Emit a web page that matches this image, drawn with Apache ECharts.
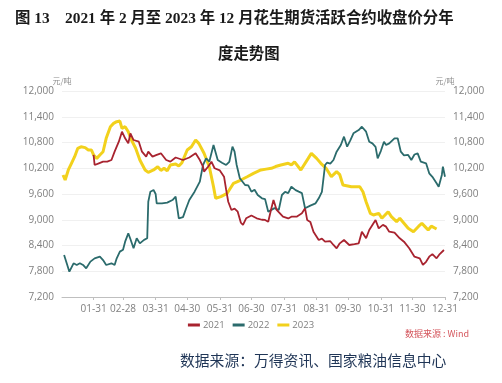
<!DOCTYPE html>
<html><head><meta charset="utf-8">
<script src="https://cdn.jsdelivr.net/npm/echarts@6/dist/echarts.min.js"></script>
<style>html,body{margin:0;padding:0;background:#fff}#c{width:502px;height:383px}</style>
</head><body><div id="c"></div>
<script>
// x = day of year (0 = Jan 1)
const tickDays = [30,58,89,119,150,180,211,242,272,303,333,364];
const tickLabels = ['01-31','02-28','03-31','04-30','05-31','06-30','07-31','08-31','09-30','10-31','11-30','12-31'];

const days2021 = [30,31,35,39,43,47,50,54,57,58,60,63,65,68,73,76,80,82,86,90,94,99,103,108,115,121,127,131,134,135,139,142,145,150,154,156,158,161,164,167,170,172,175,180,185,190,193,196,199,201,204,210,215,218,223,228,231,233,236,239,244,247,250,255,258,261,264,268,273,278,282,285,289,292,295,298,301,305,308,311,316,321,325,330,335,340,343,346,349,352,356,359,363];
const price2021 = [10510,10276,10315,10354,10354,10392,10586,10819,11052,11090,10898,10781,11014,10858,10819,10586,10470,10586,10470,10510,10548,10392,10354,10450,10392,10450,10548,10392,10236,10120,10240,10354,10200,10150,10003,9700,9420,9228,9260,9188,8930,8878,9034,9100,9034,9000,8995,8955,9267,9460,9228,9072,9030,9072,9072,9150,9267,8995,8950,8722,8528,8560,8489,8500,8412,8335,8450,8528,8412,8430,8451,8722,8568,8761,8878,8995,8800,8880,8839,8722,8700,8568,8489,8335,8140,8102,7946,8020,8140,8200,8102,8200,8295];

const days2022 = [2,5,7,11,14,17,20,23,27,31,36,39,42,47,50,52,55,58,60,63,65,68,71,74,78,81,82,84,87,89,90,95,100,105,108,111,115,118,121,126,131,134,137,140,144,148,152,156,159,162,164,166,169,174,177,180,183,186,190,193,196,199,202,206,209,212,215,218,222,225,228,231,236,241,244,247,250,252,255,258,261,265,268,271,274,277,282,285,289,292,295,298,300,303,306,308,311,316,319,322,325,329,332,335,338,341,346,349,352,356,358,361,362,364];
const price2022 = [8179,7946,7790,7985,7946,7985,7946,7868,8024,8100,8140,8060,7946,7985,7946,8102,8257,8300,8489,8684,8550,8335,8568,8450,8530,8568,9420,9654,9693,9600,9383,9383,9400,9460,9537,9034,9060,9267,9460,9654,9887,10276,10430,10354,10742,10392,10330,10276,10350,10703,10586,10276,9966,9810,9800,9654,9700,9577,9500,9480,9188,9230,9270,9228,9577,9650,9620,9770,9690,9654,9620,9267,9330,9383,9500,9650,10276,10330,10310,10392,10586,10742,10936,10703,10850,11014,11091,11168,11052,10819,10780,10700,10430,10600,10819,10740,10780,10898,10898,10586,10500,10510,10392,10520,10548,10354,10315,10082,10000,9850,9770,10043,10236,10003];

const days2023 = [1,3,6,9,12,15,18,22,25,28,30,33,36,39,42,46,49,52,55,57,60,63,66,70,74,79,82,87,91,94,97,100,103,108,111,114,119,123,127,130,135,140,144,146,151,157,160,163,170,176,182,189,194,199,203,208,215,218,221,227,234,237,242,246,251,256,261,264,267,275,283,286,289,293,296,301,304,307,310,313,318,321,325,329,334,339,342,345,348,351,356];
const price2023 = [10043,9926,10160,10315,10470,10665,10700,10680,10625,10625,10510,10430,10510,10585,10898,11168,11245,11285,11300,11130,11168,11050,10858,10665,10392,10160,10105,10160,10236,10150,10200,10140,10276,10300,10250,10330,10625,10700,10858,10780,10548,10236,9770,9500,9540,9616,9733,9850,9926,10003,10082,10160,10180,10199,10240,10276,10315,10280,10350,10160,10430,10548,10430,10315,10199,10003,10120,10050,9810,9770,9770,9654,9420,9150,9110,9150,9034,9110,9188,9072,8955,9034,8917,8800,8722,8850,8917,8840,8761,8850,8785];

const yMin = 7200, yMax = 12000, yStep = 600;
const seriesNames = ['2021','2022','2023'];
const seriesColors = ['#a8232f','#2b6b6c','#f2d11c'];

const zip = (d, v) => d.map((x, i) => [x, v[i]]);
const chart = echarts.init(document.getElementById('c'));
const yAxisCommon = {
  type: 'value', min: yMin, max: yMax, interval: yStep,
  name: '元/吨', nameGap: 6,
  nameTextStyle: {color: '#8c8c8c', fontSize: 8, fontFamily: 'Noto Sans CJK SC'},
  axisLine: {show: false}, axisTick: {show: false},
  axisLabel: {color: '#7f7f7f', fontSize: 10, fontFamily: 'Open Sans',
    formatter: v => v.toLocaleString('en-US')},
};
chart.setOption({
  animation: false,
  grid: {left: 62, right: 57, top: 91, bottom: 86},
  legend: {
    data: seriesNames, top: 315, left: 'center', icon: 'rect',
    itemWidth: 12, itemHeight: 3, itemGap: 8,
    textStyle: {color: '#7f7f7f', fontSize: 9.5, fontFamily: 'Open Sans', padding: [0, 0, 0, -2]}
  },
  xAxis: {
    type: 'value', min: 0, max: 364,
    splitLine: {show: false},
    axisLine: {lineStyle: {color: '#bfbfbf'}},
    axisTick: {show: true, customValues: tickDays, length: 3, lineStyle: {color: '#bfbfbf'}},
    axisLabel: {customValues: tickDays, color: '#7f7f7f', fontSize: 10, fontFamily: 'Open Sans', margin: 7,
      formatter: v => tickLabels[tickDays.indexOf(v)]}
  },
  yAxis: [
    Object.assign({}, yAxisCommon, {position: 'left', nameLocation: 'end',
      splitLine: {lineStyle: {color: '#f0f0f0'}}}),
    Object.assign({}, yAxisCommon, {position: 'right', splitLine: {show: false}})
  ],
  series: [
    {name: '2023', type: 'line', data: zip(days2023, price2023), showSymbol: false, color: seriesColors[2], lineStyle: {width: 3}, z: 1},
    {name: '2022', type: 'line', data: zip(days2022, price2022), showSymbol: false, color: seriesColors[1], lineStyle: {width: 1.8}, z: 2},
    {name: '2021', type: 'line', data: zip(days2021, price2021), showSymbol: false, color: seriesColors[0], lineStyle: {width: 1.8}, z: 3}
  ],
  graphic: [
    {type: 'text', left: 15, top: 11, style: {text: '图 13    2021 年 2 月至 2023 年 12 月花生期货活跃合约收盘价分年',
      font: 'bold 15.4px "Liberation Serif", "Noto Sans CJK SC"', fill: '#1a1a1a'}},
    {type: 'text', left: 218, top: 47, style: {text: '度走势图',
      font: 'bold 15.4px "Liberation Serif", "Noto Sans CJK SC"', fill: '#1a1a1a'}},
    {type: 'text', left: 405, top: 329, style: {text: '数据来源 : Wind',
      font: '9px "Noto Sans CJK SC"', fill: '#d4555c'}},
    {type: 'text', left: 180, top: 353, style: {text: '数据来源：万得资讯、国家粮油信息中心',
      font: '14.8px "Noto Sans CJK SC"', fill: '#1f3556'}}
  ]
});
</script></body></html>
